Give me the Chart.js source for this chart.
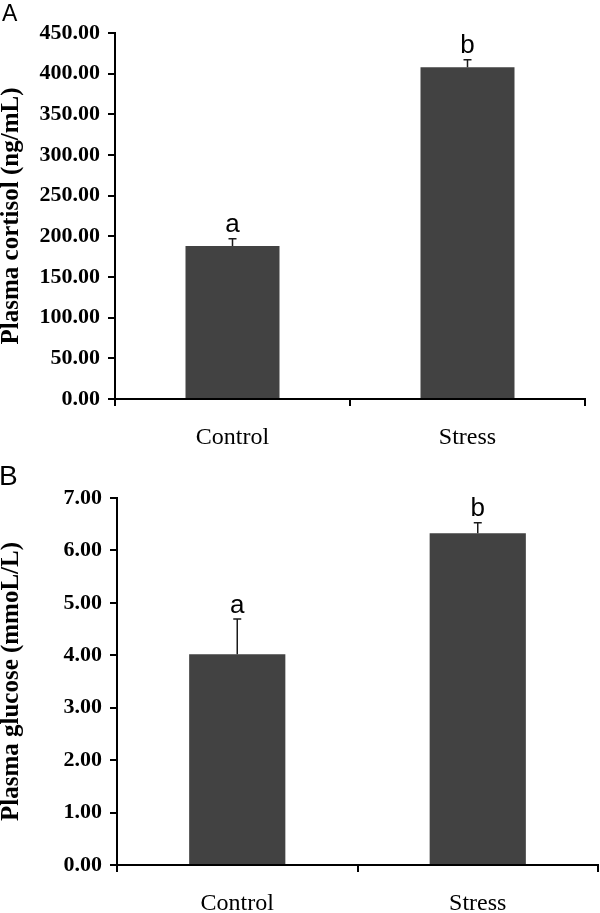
<!DOCTYPE html>
<html>
<head>
<meta charset="utf-8">
<script src="https://cdn.jsdelivr.net/npm/chart.js@4/dist/chart.umd.min.js"></script>
<style>
  html, body { margin: 0; padding: 0; background: #ffffff; }
  #wrap { position: relative; width: 600px; height: 913px; overflow: hidden; background: #fff; }
  canvas { position: absolute; left: 0; }
  .panel { position: absolute; font-family: "Liberation Sans", Arial, sans-serif; color: #000; line-height: 1; }
</style>
</head>
<body>
<div id="wrap">
  <canvas id="c1" width="600" height="456" style="top:0px"></canvas>
  <canvas id="c2" width="600" height="457" style="top:456px"></canvas>
  <div class="panel" style="left:2px; top:2px; font-size:23px;">A</div>
  <div class="panel" style="left:-1px; top:462px; font-size:28px;">B</div>
</div>
<script>
// ---- data ----
const categories = ['Control', 'Stress'];

const cortisolValues = [188, 408];
const cortisolErrors = [9, 9];
const cortisolLetters = ['a', 'b'];
const cortisolAxis = { min: 0, max: 450, step: 50 };
const cortisolTitle = 'Plasma cortisol (ng/mL)';

const glucoseValues = [4.02, 6.33];
const glucoseErrors = [0.67, 0.2];
const glucoseLetters = ['a', 'b'];
const glucoseAxis = { min: 0, max: 7, step: 1 };
const glucoseTitle = 'Plasma glucose (mmoL/L)';

// ---- styling ----
const SERIF = '"Liberation Serif", "Times New Roman", serif';
const SANS = '"Liberation Sans", Arial, sans-serif';
const BAR_COLOR = '#424242';

const errorBarPlugin = {
  id: 'errorBars',
  afterDatasetsDraw(chart, args, opts) {
    const ctx = chart.ctx;
    const meta = chart.getDatasetMeta(0);
    const ys = chart.scales.y;
    ctx.save();
    meta.data.forEach((bar, i) => {
      const v = opts.values[i];
      const e = opts.errors[i];
      const x = bar.x;
      const yBar = ys.getPixelForValue(v);
      const yTop = ys.getPixelForValue(v + e);
      ctx.strokeStyle = '#1a1a1a';
      ctx.lineWidth = 1.5;
      ctx.beginPath();
      ctx.moveTo(x, yBar);
      ctx.lineTo(x, yTop);
      ctx.moveTo(x - 4, yTop);
      ctx.lineTo(x + 4, yTop);
      ctx.stroke();
      ctx.fillStyle = '#000';
      ctx.font = '26px ' + SANS;
      ctx.textAlign = 'center';
      ctx.textBaseline = 'alphabetic';
      ctx.fillText(opts.letters[i], x, yTop - 6.5);
    });
    ctx.restore();
  }
};

function makeChart(id, values, errors, letters, axis, title, yWidth, xHeight, pad) {
  return new Chart(document.getElementById(id), {
    type: 'bar',
    data: {
      labels: categories,
      datasets: [{
        data: values,
        backgroundColor: BAR_COLOR,
        borderWidth: 0,
        categoryPercentage: 1.0,
        barPercentage: 0.4
      }]
    },
    plugins: [errorBarPlugin],
    options: {
      responsive: false,
      animation: false,
      devicePixelRatio: 1,
      layout: { padding: pad },
      plugins: {
        legend: { display: false },
        tooltip: { enabled: false },
        errorBars: { values: values, errors: errors, letters: letters }
      },
      scales: {
        x: {
          type: 'category',
          offset: true,
          grid: {
            offset: true,
            drawOnChartArea: false,
            drawTicks: true,
            tickLength: 7,
            tickColor: '#000',
            tickWidth: 2,
            color: '#000',
            lineWidth: 2
          },
          border: { display: true, color: '#000', width: 2 },
          ticks: {
            color: '#000',
            font: { family: SERIF, size: 24, weight: 'normal' },
            padding: 17,
            maxRotation: 0
          },
          afterFit(scale) { scale.height = xHeight; }
        },
        y: {
          min: axis.min,
          max: axis.max,
          grid: {
            drawOnChartArea: false,
            drawTicks: true,
            tickLength: 7,
            tickColor: '#000',
            tickWidth: 2,
            color: '#000',
            lineWidth: 2
          },
          border: { display: true, color: '#000', width: 2 },
          ticks: {
            stepSize: axis.step,
            color: '#000',
            font: { family: SERIF, size: 22, weight: 'bold' },
            padding: 8,
            callback: (v) => Number(v).toFixed(2)
          },
          title: {
            display: true,
            text: title,
            color: '#000',
            font: { family: SERIF, size: 25, weight: 'bold', lineHeight: 0.92 },
            padding: { top: 0, bottom: 0 }
          },
          afterFit(scale) { scale.width = yWidth; }
        }
      }
    }
  });
}

makeChart('c1', cortisolValues, cortisolErrors, cortisolLetters, cortisolAxis, cortisolTitle,
  115, 57, { left: 0, top: 33, right: 15, bottom: 0 });
makeChart('c2', glucoseValues, glucoseErrors, glucoseLetters, glucoseAxis, glucoseTitle,
  117, 48, { left: 0, top: 42, right: 2, bottom: 0 });
</script>
</body>
</html>
